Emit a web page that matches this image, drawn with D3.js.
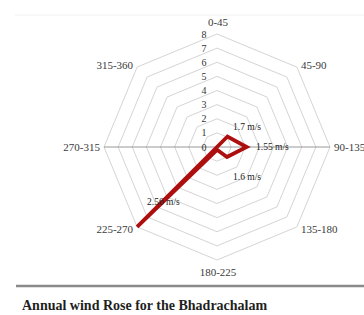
<!DOCTYPE html>
<html>
<head>
<meta charset="utf-8">
<script src="https://cdn.jsdelivr.net/npm/d3@7"></script>
<style>
  body { margin: 0; background: #fff; }
  svg { display: block; font-family: "Liberation Serif", "DejaVu Serif", serif; }
</style>
</head>
<body>
<svg width="364" height="315"></svg>
<script>
// wind direction sectors, clockwise from north
const directions = ["0-45", "45-90", "90-135", "135-180", "180-225", "225-270", "270-315", "315-360"];
// plotted values
const values = [0, 1.05, 2.1, 1.0, 0.2, 8, 0, 0];
// data labels written on the chart
const dataLabels = [
  { text: "1.7 m/s", dir: 1 },
  { text: "1.55 m/s", dir: 2 },
  { text: "1.6 m/s", dir: 3 },
  { text: "2.56 m/s", dir: 5 }
];
const ticks = [0, 1, 2, 3, 4, 5, 6, 7, 8];

main();

function main() {
  const canvas = d3.select("svg");
  const cx = 217;
  const cy = 147;
  const radius = 113;

  const rScale = d3.scaleLinear().domain([0, 8]).range([0, radius]);
  const angle = d3.scalePoint().domain(directions).range([0, 2 * Math.PI * 7 / 8]);

  // faint frame at top
  canvas.append("line")
    .attr("x1", 15).attr("x2", 364).attr("y1", 15).attr("y2", 15)
    .attr("stroke", "#f2f2f2");

  const g = canvas.append("g").attr("transform", `translate(${cx},${cy})`);

  // octagon rings
  const ring = d3.lineRadial()
    .angle((d) => angle(d))
    .radius(0)
    .curve(d3.curveLinearClosed);

  g.selectAll(".ring")
    .data(ticks.slice(1))
    .join("path")
    .attr("class", "ring")
    .attr("d", (t) => ring.radius(rScale(t))(directions))
    .attr("fill", "none")
    .attr("stroke", "#c9c9c9")
    .attr("stroke-width", 0.8);

  // horizontal spoke
  g.append("line")
    .attr("x1", -rScale(8)).attr("x2", rScale(8))
    .attr("y1", 0).attr("y2", 0)
    .attr("stroke", "#8c8c8c")
    .attr("stroke-width", 0.9);

  // value tick labels
  g.selectAll(".tick")
    .data(ticks)
    .join("text")
    .attr("class", "tick")
    .attr("x", -13)
    .attr("y", (t) => -rScale(t) + 3.5)
    .attr("text-anchor", "middle")
    .attr("font-size", 10)
    .attr("fill", "#333")
    .text((t) => t);

  // category labels
  g.selectAll(".cat")
    .data(directions)
    .join("text")
    .attr("class", "cat")
    .attr("x", (d) => {
      const s = Math.sin(angle(d));
      const vx = rScale(8) * s;
      if (Math.abs(s) < 0.1) return vx + 1;
      return vx + (s > 0 ? 4 : -4);
    })
    .attr("y", (d) => {
      const c = -Math.cos(angle(d));
      const vy = rScale(8) * c;
      if (c < -0.9) return vy - 8;
      if (c > 0.9) return vy + 16;
      return vy + 4 + c * 2.8;
    })
    .attr("text-anchor", (d) => {
      const s = Math.sin(angle(d));
      if (Math.abs(s) < 0.1) return "middle";
      return s > 0 ? "start" : "end";
    })
    .attr("font-size", 11)
    .attr("fill", "#3a3a3a")
    .text((d) => d);

  // data series
  const series = d3.lineRadial()
    .angle((d, i) => angle(directions[i]))
    .radius((d) => rScale(d))
    .curve(d3.curveLinearClosed);

  g.append("path")
    .attr("d", series(values))
    .attr("fill", "none")
    .attr("stroke", "#ad0f0f")
    .attr("stroke-width", 3.8)
    .attr("stroke-linejoin", "miter");

  // data labels
  const labelOffsets = { 1: [16, -17], 2: [39, 3], 3: [16, 33], 5: [-70, 58] };
  g.selectAll(".dl")
    .data(dataLabels)
    .join("text")
    .attr("class", "dl")
    .attr("x", (d) => labelOffsets[d.dir][0])
    .attr("y", (d) => labelOffsets[d.dir][1])
    .attr("font-size", 9.5)
    .attr("fill", "#222")
    .text((d) => d.text);

  // separator and caption
  canvas.append("line")
    .attr("x1", 16).attr("x2", 364).attr("y1", 286).attr("y2", 286)
    .attr("stroke", "#8a8a8a")
    .attr("stroke-width", 2.5);

  canvas.append("text")
    .attr("x", 22)
    .attr("y", 310)
    .attr("font-size", 14)
    .attr("font-weight", "bold")
    .attr("fill", "#1f1f1f")
    .text("Annual wind Rose for the Bhadrachalam");
}
</script>
</body>
</html>
